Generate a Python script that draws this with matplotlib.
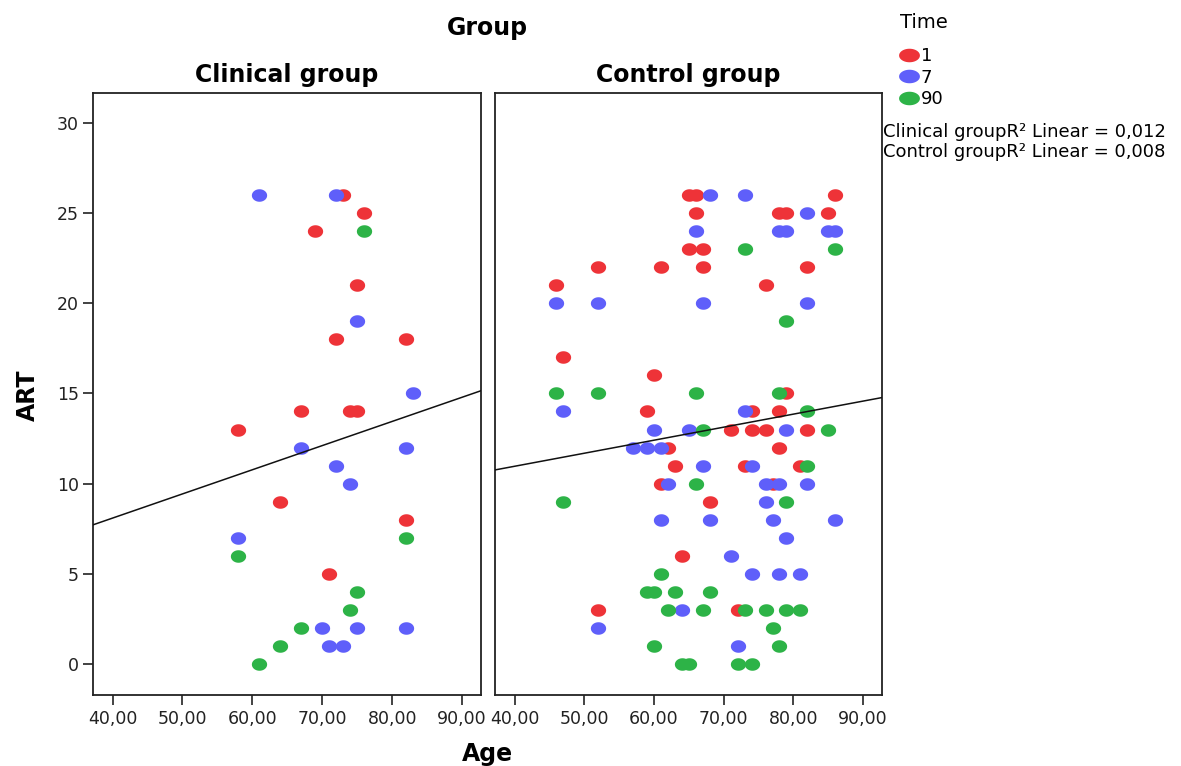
import numpy as np
import matplotlib
matplotlib.use("Agg")
import matplotlib.pyplot as plt
from matplotlib.lines import Line2D

plt.rcParams['font.family'] = ['DejaVu Sans']
plt.rcParams['mathtext.default'] = 'regular'

# ---------------- data ----------------
# Clinical group
clin_t1_age = [73, 76, 69, 75, 72, 82, 67, 74, 75, 58, 64, 82, 71]
clin_t1_art = [26, 25, 24, 21, 18, 18, 14, 14, 14, 13, 9, 8, 5]
clin_t7_age = [61, 72, 75, 83, 67, 82, 72, 74, 58, 70, 75, 82, 71, 73]
clin_t7_art = [26, 26, 19, 15, 12, 12, 11, 10, 7, 2, 2, 2, 1, 1]
clin_t90_age = [76, 82, 58, 75, 74, 67, 64, 61]
clin_t90_art = [24, 7, 6, 4, 3, 2, 1, 0]

# Control group
ctrl_t1_age = [65, 66, 86, 66, 78, 79, 85, 65, 67, 52, 61, 67, 82, 46, 76, 47, 60,
               79, 59, 74, 78, 71, 74, 76, 82, 62, 78, 63, 73, 81, 61, 77, 68, 64, 52, 72]
ctrl_t1_art = [26, 26, 26, 25, 25, 25, 25, 23, 23, 22, 22, 22, 22, 21, 21, 17, 16,
               15, 14, 14, 14, 13, 13, 13, 13, 12, 12, 11, 11, 11, 10, 10, 9, 6, 3, 3]
ctrl_t7_age = [68, 73, 82, 66, 78, 79, 85, 86, 46, 52, 67, 82, 47, 73, 60, 65, 79, 57,
               59, 61, 67, 74, 62, 76, 78, 82, 76, 61, 68, 77, 86, 79, 71, 74, 78, 81,
               64, 52, 72]
ctrl_t7_art = [26, 26, 25, 24, 24, 24, 24, 24, 20, 20, 20, 20, 14, 14, 13, 13, 13, 12,
               12, 12, 11, 11, 10, 10, 10, 10, 9, 8, 8, 8, 8, 7, 6, 5, 5, 5,
               3, 2, 1]
ctrl_t90_age = [73, 86, 79, 46, 52, 66, 78, 82, 67, 85, 82, 66, 47, 79, 61, 59, 60, 63,
                68, 62, 67, 73, 76, 79, 81, 77, 60, 78, 64, 65, 72, 74]
ctrl_t90_art = [23, 23, 19, 15, 15, 15, 15, 14, 13, 13, 11, 10, 9, 9, 5, 4, 4, 4,
                4, 3, 3, 3, 3, 3, 3, 2, 1, 1, 0, 0, 0, 0]

# Linear fit lines (intercept, slope), per group
fit_intercepts = [2.73, 8.07]
fit_slopes = [0.134, 0.0723]

panel_titles = ["Clinical group", "Control group"]
time_labels = ["1", "7", "90"]
r2_labels = ["Clinical groupR² Linear = 0,012", "Control groupR² Linear = 0,008"]
x_ticks = [40, 50, 60, 70, 80, 90]
y_ticks = [0, 5, 10, 15, 20, 25, 30]

colors = ["#EE3338", "#5F5FFA", "#2DB347"]

# ---------------- figure ----------------
W, H = 1181, 766
fig = plt.figure(figsize=(W / 100, H / 100), dpi=100)

def ellipse(ratio):
    t = np.linspace(0, 2 * np.pi, 60)
    return np.column_stack([np.cos(t), ratio * np.sin(t)])

pt_marker = ellipse(0.82)
leg_marker = ellipse(0.65)

ax1 = fig.add_axes([93 / W, 1 - 695 / H, 388 / W, 602 / H])
ax2 = fig.add_axes([495 / W, 1 - 695 / H, 387 / W, 602 / H])

groups = [
    (ax1, [(clin_t1_age, clin_t1_art), (clin_t7_age, clin_t7_art), (clin_t90_age, clin_t90_art)]),
    (ax2, [(ctrl_t1_age, ctrl_t1_art), (ctrl_t7_age, ctrl_t7_art), (ctrl_t90_age, ctrl_t90_art)]),
]

xlim = (37.2, 92.7)
ylim = (-1.72, 31.66)

for i, (ax, series) in enumerate(groups):
    for (xs, ys), c in zip(series, colors):
        ax.plot(xs, ys, linestyle="none", marker=pt_marker, markersize=11,
                markerfacecolor=c, markeredgewidth=0, zorder=3)
    ax.set_xlim(xlim)
    ax.set_ylim(ylim)
    lx = np.array(xlim)
    ax.plot(lx, fit_intercepts[i] + fit_slopes[i] * lx, color="#111111", lw=1.1, zorder=4)
    ax.set_title(panel_titles[i], fontsize=17, fontweight="bold", pad=8)
    ax.set_xticks(x_ticks)
    ax.set_xticklabels([f"{v},00" for v in x_ticks])
    ax.set_yticks(y_ticks)
    ax.set_yticklabels([str(v) for v in y_ticks])
    ax.tick_params(axis="both", direction="out", length=7, width=1.2,
                   labelsize=12.5, colors="#222222", pad=3)
    ax.tick_params(axis="x", pad=4)
    for s in ax.spines.values():
        s.set_linewidth(1.3)
        s.set_color("#222222")

ax2.tick_params(axis="y", left=False, labelleft=False)

fig.text(487.5 / W, 1 - 28 / H, "Group", ha="center", va="center",
         fontsize=17, fontweight="bold")
fig.text(487.5 / W, 1 - 761 / H, "Age", ha="center", va="baseline",
         fontsize=17, fontweight="bold")
fig.text(28 / W, 1 - 395 / H, "ART", ha="center", va="center", rotation=90,
         fontsize=17, fontweight="bold")

fig.text(900 / W, 1 - 22 / H, "Time", ha="left", va="center", fontsize=14)
handles = [Line2D([], [], linestyle="none", marker=leg_marker, markersize=15,
                  markerfacecolor=c, markeredgewidth=0) for c in colors]
leg = fig.legend(handles, time_labels, loc="upper left",
                 bbox_to_anchor=(900 / W, 1 - 47 / H), frameon=False,
                 fontsize=13, handlelength=1.0, borderpad=0,
                 handletextpad=0.15, labelspacing=0.2, borderaxespad=0)

fig.text(883 / W, 1 - 137 / H, r2_labels[0], ha="left", va="baseline", fontsize=13)
fig.text(883 / W, 1 - 157 / H, r2_labels[1], ha="left", va="baseline", fontsize=13)

fig.savefig("out.png", dpi=100)
